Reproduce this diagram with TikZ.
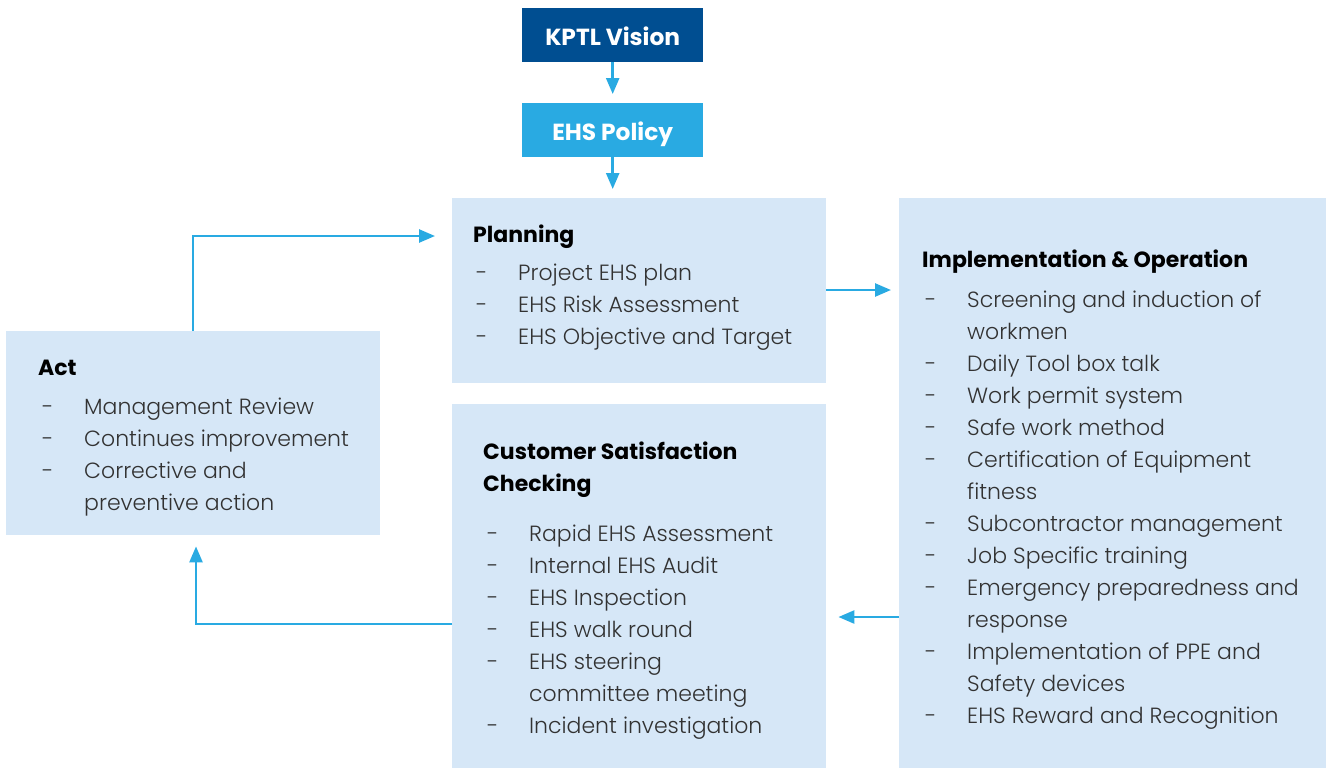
\documentclass[tikz,border=0pt]{standalone}
\usepackage{fontspec}
\setmainfont{Poppins}[UprightFont=* Light, BoldFont=* Bold]
\usetikzlibrary{arrows.meta,calc}
\definecolor{darkblue}{RGB}{0,78,145}
\definecolor{midblue}{RGB}{41,170,226}
\definecolor{boxfill}{RGB}{214,231,247}
\definecolor{txtgray}{RGB}{50,50,50}
\tikzset{
  box/.style={fill=boxfill, draw=none, anchor=north west, inner sep=0pt},
  topbox/.style={draw=none, anchor=north west, inner sep=0pt, text=white,
    font=\fontsize{23.3}{28}\selectfont\bfseries, minimum width=181pt, minimum height=54pt,
    text height=21pt, text depth=0pt},
  arr/.style={draw=midblue, line width=2.5pt, -{Triangle[length=16pt,width=13pt]}},
  itm/.style={anchor=base west, inner sep=0pt, text=txtgray, font=\fontsize{22}{32}\selectfont},
  hd/.style={anchor=base west, inner sep=0pt, text=black, font=\fontsize{22}{32}\selectfont\bfseries},
}
\newcommand\mkitems[5]{%
  \foreach \dd/\txt [count=\i from 0] in {#5} {
    \node[itm] (#1t\i) at (#3, #4+32*\i) {\txt};
    \ifnum\dd=1 \node[itm] (#1d\i) at (#2, #4+32*\i) {-};\fi
  }}
\begin{document}
\begin{tikzpicture}[x=1pt,y=-1pt]
\useasboundingbox (0,0) rectangle (1327,769);
% boxes
\node[topbox, fill=darkblue] (vision) at (522,8) {KPTL Vision};
\node[topbox, fill=midblue] (policy) at (522,103) {EHS Policy};
\node[box, minimum width=374pt, minimum height=185pt] (plan) at (452,198) {};
\node[box, minimum width=427pt, minimum height=570pt] (impl) at (899,198) {};
\node[box, minimum width=374pt, minimum height=364pt] (cust) at (452,404) {};
\node[box, minimum width=374pt, minimum height=204pt] (act) at (6,331) {};
% headings
\node[hd] (planh) at (473,242) {Planning};
\node[hd] (implh) at (922,267) {Implementation \& Operation};
\node[hd] (custh1) at (483,459) {Customer Satisfaction};
\node[hd] (custh2) at (483,491) {Checking};
\node[hd] (acth) at (38,375) {Act};
% items
\mkitems{pl}{476}{518}{280}{1/Project EHS plan, 1/EHS Risk Assessment, 1/EHS Objective and Target}
\mkitems{im}{925}{967}{307}{1/Screening and induction of, 0/workmen, 1/Daily Tool box talk,
  1/Work permit system, 1/Safe work method, 1/Certification of Equipment, 0/fitness,
  1/Subcontractor management, 1/Job Specific training, 1/Emergency preparedness and,
  0/response, 1/Implementation of PPE and, 0/Safety devices, 1/EHS Reward and Recognition}
\mkitems{cu}{487}{529}{541}{1/Rapid EHS Assessment, 1/Internal EHS Audit, 1/EHS Inspection,
  1/EHS walk round, 1/EHS steering, 0/committee meeting, 1/Incident investigation}
\mkitems{ac}{42}{84}{414}{1/Management Review, 1/Continues improvement, 1/Corrective and,
  0/preventive action}
% connectors
\draw[arr, shorten >=9pt] (vision.south) -- (policy.north);
\draw[arr, shorten >=9pt] (policy.south) -- (plan.north -| policy.south);
\draw[arr, shorten >=17pt] ($(act.north west)+(187,0)$) |- ($(plan.north west)+(0,38)$);
\draw[arr, shorten >=8pt] ($(plan.north east)+(0,92)$) -- ($(impl.north west)+(0,92)$);
\draw[arr, shorten >=12pt] ($(impl.north west)+(0,419)$) -- ($(cust.north east)+(0,213)$);
\draw[arr, shorten >=11pt] ($(cust.north west)+(0,220)$) -| ($(act.south west)+(190,0)$);
\end{tikzpicture}
\end{document}
